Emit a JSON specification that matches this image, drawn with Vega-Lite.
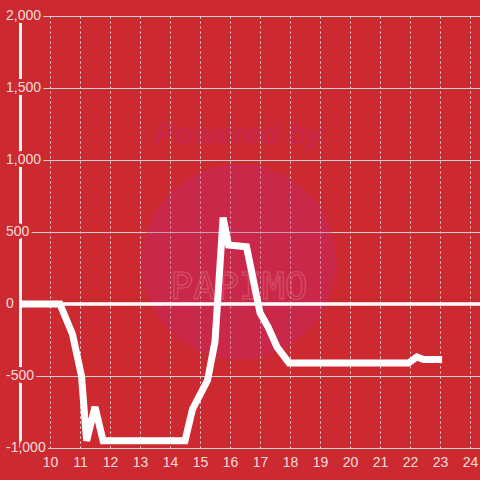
{
  "$schema": "https://vega.github.io/schema/vega-lite/v6.json",
  "width": 460,
  "height": 432,
  "autosize": "none",
  "padding": {"left": 20, "top": 16, "right": 0, "bottom": 32},
  "background": "#cc2a30",
  "config": {"view": {"stroke": null}, "font": "Liberation Sans"},
  "resolve": {"axis": {"x": "independent"}},
  "datasets": {
    "series": [
      {"t": 9, "v": 0},
      {"t": 10.33, "v": 0},
      {"t": 10.75, "v": -210},
      {"t": 11.05, "v": -500},
      {"t": 11.22, "v": -950},
      {"t": 11.5, "v": -715},
      {"t": 11.77, "v": -950},
      {"t": 14.5, "v": -950},
      {"t": 14.75, "v": -730},
      {"t": 15.25, "v": -530},
      {"t": 15.5, "v": -260},
      {"t": 15.77, "v": 600},
      {"t": 15.95, "v": 410},
      {"t": 16.55, "v": 398},
      {"t": 17.0, "v": -60},
      {"t": 17.27, "v": -160},
      {"t": 17.57, "v": -300},
      {"t": 17.97, "v": -410},
      {"t": 21.95, "v": -410},
      {"t": 22.23, "v": -368},
      {"t": 22.45, "v": -385},
      {"t": 23.07, "v": -385}
    ],
    "yticks": [
      {"v": -1000, "label": "-1,000"},
      {"v": -500, "label": "-500"},
      {"v": 0, "label": "0"},
      {"v": 500, "label": "500"},
      {"v": 1000, "label": "1,000"},
      {"v": 1500, "label": "1,500"},
      {"v": 2000, "label": "2,000"}
    ],
    "wm": [{"t": 16.3, "v": 292, "a": "Powered by", "b": "PAPIMO"}]
  },
  "layer": [
    {
      "encoding": {
        "x": {"field": "t", "type": "quantitative", "scale": {"domain": [9, 24.333], "nice": false, "zero": false},
          "axis": {"values": [10, 11, 12, 13, 14, 15, 16, 17, 18, 19, 20, 21, 22, 23, 24], "grid": true, "gridDash": [2, 3], "gridColor": "#e0e0e0", "gridWidth": 1, "domain": false, "ticks": false, "labelColor": "#f4dcdc", "labelFontSize": 14, "labelPadding": 7, "labelOverlap": false, "labelBound": false, "labelFlush": false, "title": null}},
        "y": {"field": "v", "type": "quantitative", "scale": {"domain": [-1000, 2000], "nice": false, "zero": false},
          "axis": {"values": [-1000, -750, -500, -250, 0, 250, 500, 750, 1000, 1250, 1500, 1750, 2000], "grid": true, "gridColor": "#d0d0d0", "gridWidth": 1, "labels": false, "ticks": false, "domain": true, "domainColor": "#f5f5f5", "domainWidth": 3, "title": null}}
      },
      "layer": [
        {
          "data": {"name": "wm"},
          "mark": {"type": "point", "shape": "circle", "filled": true, "size": 38000, "color": "#c22380", "opacity": 0.3}
        },
        {
          "data": {"name": "wm"},
          "mark": {"type": "text", "fontSize": 30, "fontWeight": "bold", "fontStyle": "italic", "color": "#c22380", "opacity": 0.3, "dy": -127, "align": "center", "baseline": "middle"},
          "encoding": {"text": {"field": "a"}}
        },
        {
          "data": {"name": "wm"},
          "mark": {"type": "text", "font": "DejaVu Sans Mono", "fontSize": 38, "fill": null, "stroke": "#e07080", "strokeWidth": 1.5, "opacity": 0.45, "dy": 26, "align": "center", "baseline": "middle"},
          "encoding": {"text": {"field": "b"}}
        },
        {
          "data": {"name": "yticks"},
          "mark": {"type": "rule", "color": "#ffffff", "strokeWidth": 3.5},
          "transform": [{"filter": "datum.v == 0"}],
          "encoding": {"x": null}
        },
        {
          "data": {"name": "series"},
          "mark": {"type": "line", "color": "#ffffff", "strokeWidth": 7}
        }
      ]
    },
    {
      "data": {"name": "yticks"},
      "encoding": {
        "x": {"datum": 9, "type": "quantitative", "axis": null},
        "y": {"field": "v", "type": "quantitative"},
        "text": {"field": "label"}
      },
      "layer": [
        {"mark": {"type": "text", "align": "left", "baseline": "middle", "dx": -14, "fontSize": 14, "fill": "#cc2a30", "stroke": "#cc2a30", "strokeWidth": 6}},
        {"mark": {"type": "text", "align": "left", "baseline": "middle", "dx": -14, "fontSize": 14, "fill": "#f4dcdc"}}
      ]
    }
  ]
}
